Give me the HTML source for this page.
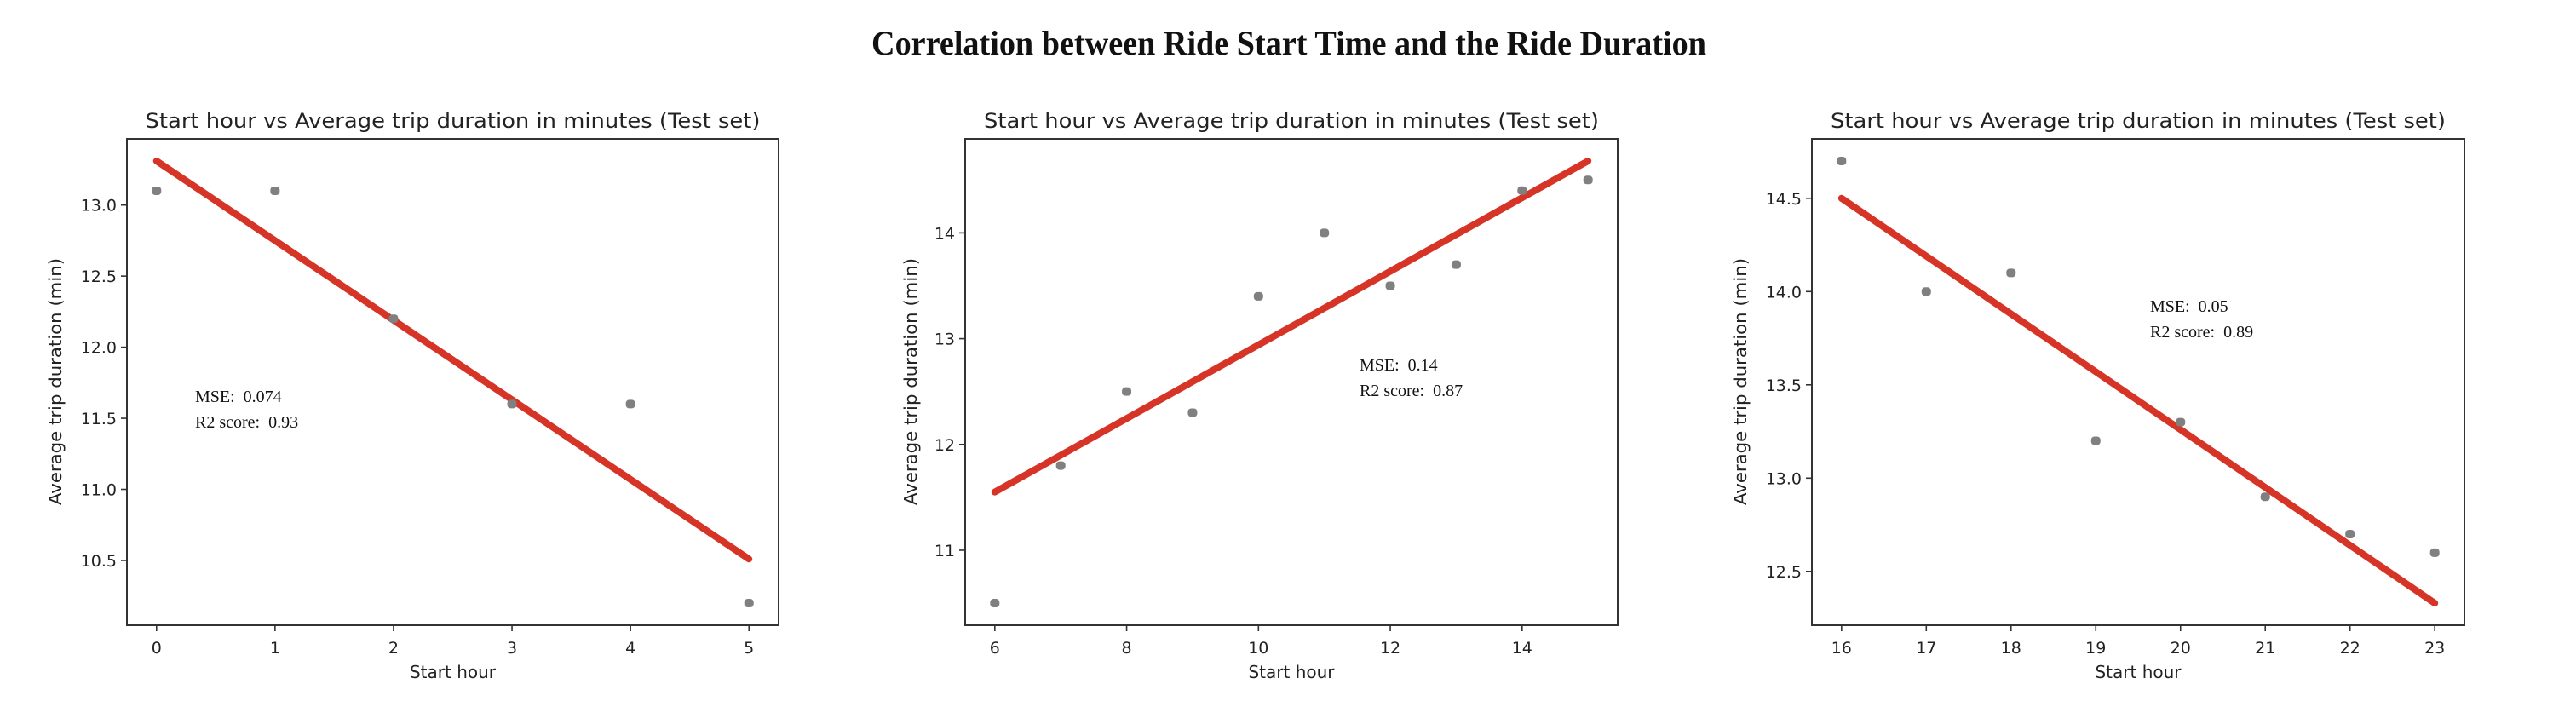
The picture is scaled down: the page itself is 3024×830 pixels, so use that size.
<!DOCTYPE html>
<html><head><meta charset="utf-8"><style>
html,body{margin:0;padding:0;background:#fff;}
svg{display:block;}
.pre{white-space:pre;}
</style></head><body>
<svg id="fig" width="3024" height="830" viewBox="0 0 3024 830" xmlns="http://www.w3.org/2000/svg">
<rect width="3024" height="830" fill="#fff"/>
<text x="1513" y="64" text-anchor="middle" font-family="Liberation Serif, serif" font-weight="bold" font-size="40" textLength="980" lengthAdjust="spacingAndGlyphs" fill="#111">Correlation between Ride Start Time and the Ride Duration</text>
</svg>
<script>
// Chart 1 (hours 0-5)
const hours1 = [0,1,2,3,4,5];
const dur1 = [13.1,13.1,12.2,11.6,11.6,10.2];
const fit1 = [13.31,10.51];
const xticks1 = [0,1,2,3,4,5];
const yticks1 = [10.5,11.0,11.5,12.0,12.5,13.0];
const metrics1 = ["MSE:  0.074","R2 score:  0.93"];
// Chart 2 (hours 6-15)
const hours2 = [6,7,8,9,10,11,12,13,14,15];
const dur2 = [10.5,11.8,12.5,12.3,13.4,14.0,13.5,13.7,14.4,14.5];
const fit2 = [11.55,14.68];
const xticks2 = [6,8,10,12,14];
const yticks2 = [11,12,13,14];
const metrics2 = ["MSE:  0.14","R2 score:  0.87"];
// Chart 3 (hours 16-23)
const hours3 = [16,17,18,19,20,21,22,23];
const dur3 = [14.7,14.0,14.1,13.2,13.3,12.9,12.7,12.6];
const fit3 = [14.5,12.33];
const xticks3 = [16,17,18,19,20,21,22,23];
const yticks3 = [12.5,13.0,13.5,14.0,14.5];
const metrics3 = ["MSE:  0.05","R2 score:  0.89"];

const NS = "http://www.w3.org/2000/svg";
const svg = document.getElementById('fig');
function mk(tag, attrs, parent){
  const e = document.createElementNS(NS, tag);
  for (const k in attrs) e.setAttribute(k, attrs[k]);
  (parent||svg).appendChild(e);
  return e;
}
function chart(idx, box, xs, ys, fit, xt, yt, decimals, metrics, metricPos){
  const g = mk('g', {});
  
  
  const allY = ys.concat(fit);
  const xmin0 = Math.min(...xs), xmax0 = Math.max(...xs);
  const ymin0 = Math.min(...allY), ymax0 = Math.max(...allY);
  const xm = (xmax0 - xmin0) * 0.05, ym = (ymax0 - ymin0) * 0.05;
  const xmin = xmin0 - xm, xmax = xmax0 + xm, ymin = ymin0 - ym, ymax = ymax0 + ym;
  const X = v => box.l + (v - xmin) / (xmax - xmin) * (box.r - box.l);
  const Y = v => box.b - (v - ymin) / (ymax - ymin) * (box.b - box.t);
  const t = mk('text', {x:(box.l+box.r)/2, y:150, 'text-anchor':'middle', 'font-family':'DejaVu Sans, sans-serif', 'font-size':24, textLength:722, lengthAdjust:'spacingAndGlyphs', fill:'#222'}, g);
  t.textContent = 'Start hour vs Average trip duration in minutes (Test set)';
  
  
  const ln = mk('line', {x1:X(xmin0), y1:Y(fit[0]), x2:X(xmax0), y2:Y(fit[1]), stroke:'#d63427', 'stroke-width':8, 'stroke-linecap':'round'}, g);
  
  
  xs.forEach((x, i) => {
    const p = mk('rect', {x:X(x)-5.5, y:Y(ys[i])-5, width:11, height:10, rx:4, fill:'#808080'}, g);
    
    
  });
  const fr = mk('rect', {x:box.l, y:box.t, width:box.r-box.l, height:box.b-box.t, fill:'none', stroke:'#333', 'stroke-width':2}, g);
  
  
  xt.forEach(v => {
    mk('line', {x1:X(v), x2:X(v), y1:box.b, y2:box.b+7, stroke:'#333', 'stroke-width':1.6}, g);
    const tl = mk('text', {x:X(v), y:box.b+33, 'text-anchor':'middle', 'font-family':'DejaVu Sans, sans-serif', 'font-size':19, fill:'#222'}, g);
    tl.textContent = String(v);
    
    
  });
  yt.forEach(v => {
    mk('line', {x1:box.l-7, x2:box.l, y1:Y(v), y2:Y(v), stroke:'#333', 'stroke-width':1.6}, g);
    const tl = mk('text', {x:box.l-12, y:Y(v)+7, 'text-anchor':'end', 'font-family':'DejaVu Sans, sans-serif', 'font-size':19, fill:'#222'}, g);
    tl.textContent = v.toFixed(decimals);
    
    
  });
  const xl = mk('text', {x:(box.l+box.r)/2, y:796, 'text-anchor':'middle', 'font-family':'DejaVu Sans, sans-serif', 'font-size':20, fill:'#222'}, g);
  xl.textContent = 'Start hour';
  
  
  const yx = box.yl, yy = 448;
  const yl = mk('text', {x:yx, y:yy, 'text-anchor':'middle', 'font-family':'DejaVu Sans, sans-serif', 'font-size':20, textLength:290, lengthAdjust:'spacingAndGlyphs', fill:'#222', transform:'rotate(-90 '+yx+' '+yy+')'}, g);
  yl.textContent = 'Average trip duration (min)';
  
  
  metrics.forEach((m, i) => {
    const mt = mk('text', {x:metricPos[0], y:metricPos[1] + i*30, 'font-family':'Liberation Serif, serif', 'font-size':20, fill:'#111', 'class':'pre', 'xml:space':'preserve'}, g);
    mt.textContent = m;
    
    
  });
}
chart(1, {l:149, r:914, t:163, b:734, yl:72}, hours1, dur1, fit1, xticks1, yticks1, 1, metrics1, [229,472]);
chart(2, {l:1133, r:1899, t:163, b:734, yl:1076}, hours2, dur2, fit2, xticks2, yticks2, 0, metrics2, [1596,435]);
chart(3, {l:2127, r:2893, t:163, b:734, yl:2050}, hours3, dur3, fit3, xticks3, yticks3, 1, metrics3, [2524,366]);
</script>
</body></html>
